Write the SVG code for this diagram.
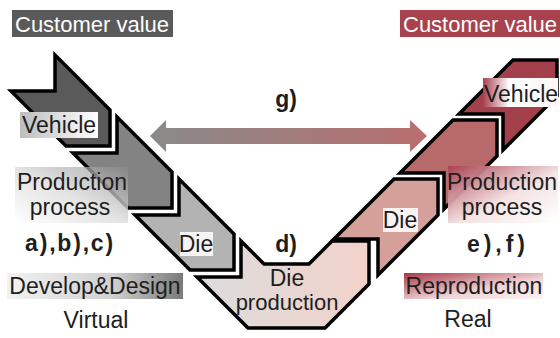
<svg xmlns="http://www.w3.org/2000/svg" width="560" height="338" viewBox="0 0 560 338">
<defs>
<linearGradient id="gArrow" x1="0" y1="0" x2="1" y2="0"><stop offset="0" stop-color="#8a8a8a"/><stop offset="1" stop-color="#b96e6e"/></linearGradient>
<linearGradient id="gDieProd" x1="0" y1="0" x2="1" y2="0"><stop offset="0" stop-color="#dcdcdc"/><stop offset="1" stop-color="#f2d2ca"/></linearGradient>
<linearGradient id="gVehL" x1="0" y1="0" x2="1" y2="0"><stop offset="0" stop-color="#bdbdbd"/><stop offset="1" stop-color="#ffffff"/></linearGradient>
<linearGradient id="gProdL" x1="0" y1="1" x2="1" y2="0"><stop offset="0" stop-color="#ffffff"/><stop offset="0.5" stop-color="#e0e0e0" stop-opacity="0.9"/><stop offset="1" stop-color="#8a8a8a" stop-opacity="0.6"/></linearGradient>
<linearGradient id="gDevL" x1="0" y1="0" x2="1" y2="0"><stop offset="0" stop-color="#f2f2f2"/><stop offset="0.6" stop-color="#d0d0d0"/><stop offset="1" stop-color="#7a7a7a"/></linearGradient>
<linearGradient id="gVehR" x1="0" y1="0" x2="1" y2="0"><stop offset="0" stop-color="#a84050"/><stop offset="0.35" stop-color="#ffffff"/><stop offset="1" stop-color="#fdf6f6"/></linearGradient>
<linearGradient id="gProdR" x1="0" y1="0" x2="1" y2="1"><stop offset="0" stop-color="#a84050"/><stop offset="0.55" stop-color="#f4e2e2"/><stop offset="1" stop-color="#ffffff"/></linearGradient>
<linearGradient id="gRepR" x1="0" y1="0" x2="1" y2="1"><stop offset="0" stop-color="#a83848"/><stop offset="0.6" stop-color="#efd4d6"/><stop offset="1" stop-color="#fdf4f4"/></linearGradient>
</defs>
<style>
.chev{stroke:#000;stroke-width:3.5;stroke-linejoin:miter}
.t{font-family:"Liberation Sans",Arial,sans-serif;font-size:23px;fill:#1e1e1e}
.h{font-size:22px}
.b{font-weight:bold}
.w{fill:#ffffff}
.m{text-anchor:middle}
</style>
<g id="header-left"><rect x="12" y="10" width="161" height="27" fill="#5a5a5a"/><text class="t h w" x="15" y="32">Customer value</text></g>
<g id="header-right"><rect x="400" y="10" width="160" height="27" fill="#a8434e"/><text class="t h w" x="403" y="32">Customer value</text></g>
<g id="connectors">
<polygon points="150,136 166,120 166,128 410,128 410,120 427,136 410,152 410,144 166,144 166,152" fill="url(#gArrow)"/>
</g>
<g id="vehicle-left"><polygon class="chev" fill="#5a5a5a" points="55,55 110,110 110,146 66,146 11,91 55,91"/></g>
<g id="production-left"><polygon class="chev" fill="#838383" points="117,117 172,172 172,208 128,208 73,153 117,153"/></g>
<g id="die-left"><polygon class="chev" fill="#b3b3b3" points="179,179 234,234 234,270 190,270 135,215 179,215"/></g>
<g id="die-production"><polygon class="chev" fill="url(#gDieProd)" points="241,241 264,264 309,264 332,241 369,241 369,284 325,328 248,328 197,277 241,277"/></g>
<g id="die-right"><polygon class="chev" fill="#d6a09a" points="334,239 394,179 438,179 438,215 378,275 378,239"/></g>
<g id="production-right"><polygon class="chev" fill="#b86a6a" points="400,173 453,120 497,120 497,156 444,209 444,173"/></g>
<g id="vehicle-right"><polygon class="chev" fill="#a3404b" points="459,114 513,60 557,60 557,96 503,150 503,114"/></g>
<g id="labels">
<rect x="20" y="112" width="78" height="26" fill="url(#gVehL)"/><text class="t" x="22" y="133">Vehicle</text>
<rect x="15" y="167" width="113" height="56" fill="url(#gProdL)"/><text class="t m" x="72" y="190">Production</text><text class="t m" x="70" y="215">process</text>
<text class="t b m" x="70" y="251" letter-spacing="1.8">a),b),c)</text>
<rect x="180" y="232" width="33" height="24" fill="#f4f4f4"/><text class="t m" x="196" y="252">Die</text>
<rect x="7" y="273" width="176" height="26" fill="url(#gDevL)"/><text class="t m" x="95" y="294">Develop&amp;Design</text>
<text class="t m" x="96" y="328">Virtual</text>
<text class="t b m" x="286" y="107">g)</text>
<text class="t b m" x="286" y="252">d)</text>
<text class="t m" x="287" y="286">Die</text><text class="t m h" x="287" y="310">production</text>
<rect x="383" y="208" width="35" height="24" fill="#fbf3f3"/><text class="t m" x="400" y="228">Die</text>
<rect x="483" y="78" width="75" height="29" fill="url(#gVehR)"/><text class="t" x="484" y="102">Vehicle</text>
<rect x="448" y="166" width="110" height="57" fill="url(#gProdR)" opacity="0.95"/><text class="t m" x="502" y="190">Production</text><text class="t m" x="502" y="215">process</text>
<text class="t b" x="467" y="252" textLength="58" lengthAdjust="spacing">e),f)</text>
<rect x="404" y="273" width="139" height="26" fill="url(#gRepR)"/><text class="t m" x="474" y="294">Reproduction</text>
<text class="t m" x="468" y="327">Real</text>
</g>
</svg>
